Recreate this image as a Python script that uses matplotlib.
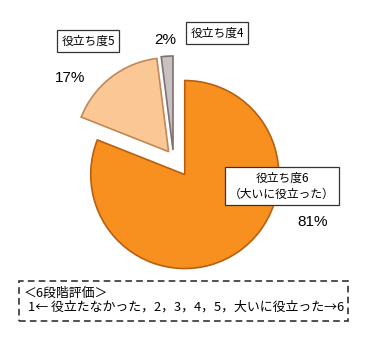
import matplotlib.pyplot as plt
from matplotlib.patches import Rectangle

plt.rcParams['font.family'] = ['Noto Sans CJK JP', 'DejaVu Sans']

labels = ['役立ち度6\n（大いに役立った）', '役立ち度5', '役立ち度4']
values = [81, 17, 2]
pct_labels = ['81%', '17%', '2%']
colors = ['#F7901E', '#FBC794', '#C9C0C0']
edges = ['#B85F10', '#C08858', '#807070']
explode = [20, 8, 8]

W, H = 368, 340
fig = plt.figure(figsize=(W / 100, H / 100), dpi=100)
ax = fig.add_axes([0, 0, 1, 1])

# y measured from top in pixels -> data y
def py(y):
    return H - y

wedges, _ = ax.pie(values, colors=colors, startangle=90, counterclock=False,
                   center=(173.5, py(158)), radius=94,
                   explode=explode, frame=True,
                   wedgeprops=dict(linewidth=1.2))
for w, ec in zip(wedges, edges):
    w.set_edgecolor(ec)
ax.set_xlim(0, W)
ax.set_ylim(0, H)
ax.set_aspect('equal')
ax.axis('off')

box = dict(boxstyle='square,pad=0.35', fc='white', ec='#333333', lw=0.9)
ax.text(282, py(186), labels[0], ha='center', va='center', fontsize=8.5,
        bbox=box, linespacing=1.3)
ax.text(88, py(41), labels[1], ha='center', va='center', fontsize=8.5, bbox=box)
ax.text(217, py(33), labels[2], ha='center', va='center', fontsize=8.5, bbox=box)

ax.text(313, py(222), pct_labels[0], ha='center', va='center', fontsize=11,
        family='Liberation Sans')
ax.text(70, py(78), pct_labels[1], ha='center', va='center', fontsize=11,
        family='Liberation Sans')
ax.text(165, py(40), pct_labels[2], ha='center', va='center', fontsize=11,
        family='Liberation Sans')

ax.add_patch(Rectangle((19, py(321)), 329, 40, fill=False, ec='#333333',
                       lw=1.2, ls=(0, (4, 2.5))))
ax.text(24, py(293), '＜6段階評価＞', ha='left', va='center', fontsize=9.3)
ax.text(28, py(307), '1← 役立たなかった，2，3，4，5，大いに役立った→6',
        ha='left', va='center', fontsize=9.3)

fig.savefig('out.png', dpi=100)
